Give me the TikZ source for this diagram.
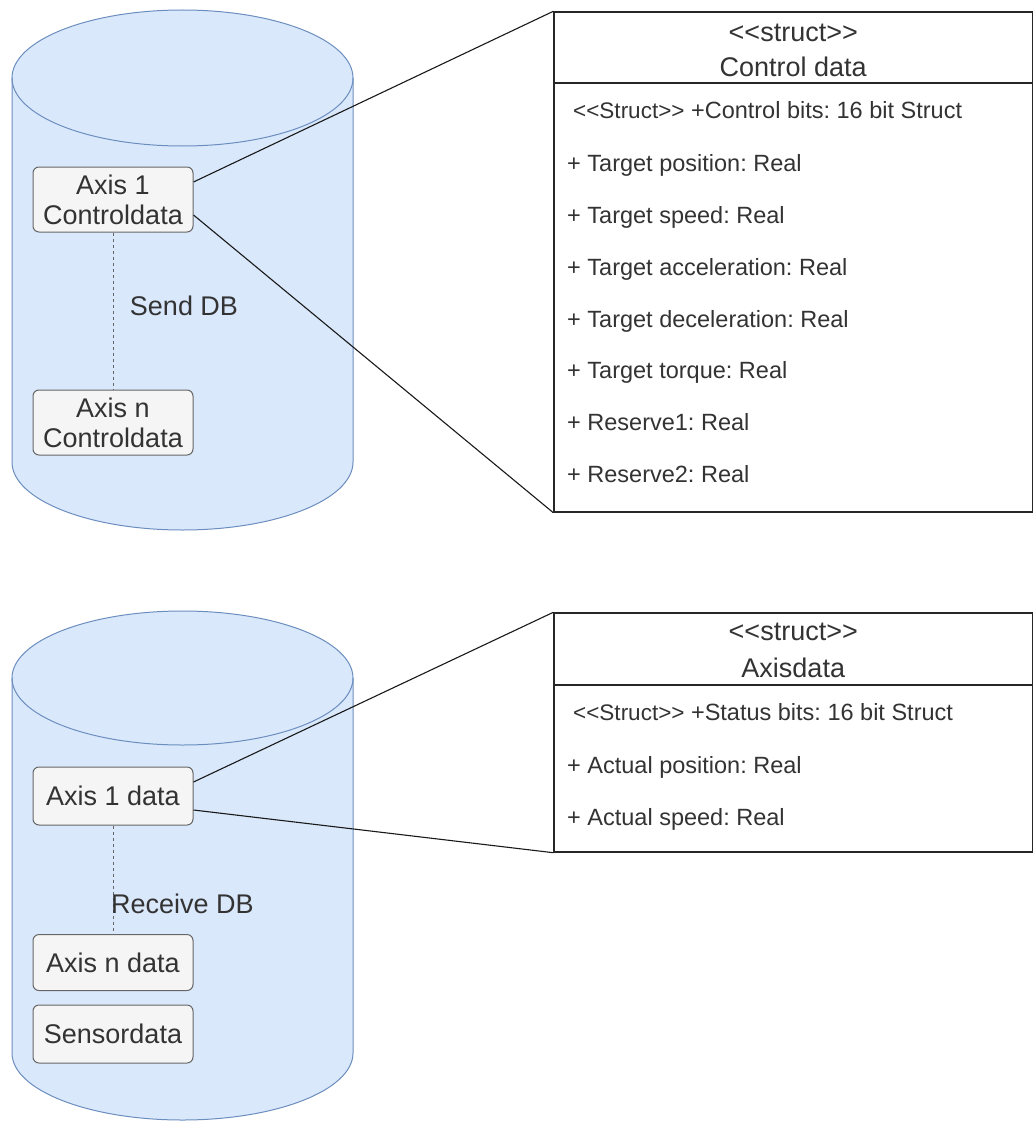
\documentclass[tikz,border=0pt]{standalone}
\usepackage{fontspec}
\setmainfont{Liberation Sans}
% guillemet-free double angle brackets
\newcommand\dlt{<\kern0pt<}
\newcommand\dgt{>\kern0pt>}
\definecolor{cylfill}{HTML}{DAE8FC}
\definecolor{cylline}{HTML}{6C8EBF}
\definecolor{boxfill}{HTML}{F5F5F5}
\definecolor{boxline}{HTML}{666666}
\definecolor{txt}{HTML}{333333}

\begin{document}
\frenchspacing
\begin{tikzpicture}[x=1pt,y=1pt,
  cylbody/.style={fill=cylfill},
  cylrim/.style={draw=cylline,line width=1pt},
  dbitem/.style={rounded corners=6pt,fill=boxfill,draw=boxline,line width=1pt,
    minimum width=160pt,align=center,text=txt,
    font=\fontsize{27}{30}\selectfont,inner sep=0pt},
  dblabel/.style={text=txt,font=\fontsize{27}{30}\selectfont,inner sep=0pt},
  structbox/.style={draw=black!85,line width=1.4pt,fill=white,inner sep=0pt},
  attr/.style={anchor=base west,text=txt,font=\fontsize{23.5}{26}\selectfont,inner sep=0pt},
  head/.style={anchor=base,text=txt,font=\fontsize{27}{30}\selectfont,inner sep=0pt},
  link/.style={draw=black!90,line width=1.1pt},
  dots/.style={draw=boxline,line width=1pt,dash pattern=on 3pt off 3pt}]
\useasboundingbox (0,0) rectangle (1034,-1129);
\fill[white] (0,0) rectangle (1034,-1129);

% ---------- Send DB cylinder ----------
\fill[cylbody] (12,-78) -- (12,-462)
  arc[start angle=180,end angle=360,x radius=170.5,y radius=68]
  -- (353,-78) arc[start angle=0,end angle=180,x radius=170.5,y radius=68] -- cycle;
\draw[cylrim] (12,-78) -- (12,-462)
  arc[start angle=180,end angle=360,x radius=170.5,y radius=68] -- (353,-78);
\draw[cylrim] (182.5,-78) ellipse[x radius=170.5,y radius=68];

\node[dbitem,minimum height=65pt] (a1) at (113,-199.5) {Axis 1\\Controldata};
\node[dbitem,minimum height=65pt] (an) at (113,-422.5) {Axis n\\Controldata};
\draw[dots] (a1.south) -- (an.north);
\node[dblabel] (send) at (184,-306) {Send DB};

% ---------- Control data struct ----------
\node[structbox,minimum width=478.5pt,minimum height=500pt] (ctrl) at (793.25,-262) {};
\draw[structbox] (554,-83) -- (1032.5,-83);
\node[head] (ctrlst) at (793.25,-42) {\dlt struct\dgt};
\node[head] (ctrlnm) at (793.25,-77) {Control data};
\node[attr] (c0) at (573,-118) {{\fontsize{22.5}{24}\selectfont\dlt Struct\dgt} +Control bits: 16 bit Struct};
\node[attr] (c1) at (567,-171) {+ Target position: Real};
\node[attr] (c2) at (567,-223) {+ Target speed: Real};
\node[attr] (c3) at (567,-275) {+ Target acceleration: Real};
\node[attr] (c4) at (567,-327) {+ Target deceleration: Real};
\node[attr] (c5) at (567,-378) {+ Target torque: Real};
\node[attr] (c6) at (567,-430) {+ Reserve1: Real};
\node[attr] (c7) at (567,-482) {+ Reserve2: Real};

\draw[link] ([yshift=17.5pt]a1.east) -- (ctrl.north west);
\draw[link] ([yshift=-15.5pt]a1.east) -- (ctrl.south west);

% ---------- Receive DB cylinder ----------
\fill[cylbody] (12,-678) -- (12,-1053)
  arc[start angle=180,end angle=360,x radius=170.5,y radius=67]
  -- (353,-678) arc[start angle=0,end angle=180,x radius=170.5,y radius=67] -- cycle;
\draw[cylrim] (12,-678) -- (12,-1053)
  arc[start angle=180,end angle=360,x radius=170.5,y radius=67] -- (353,-678);
\draw[cylrim] (182.5,-678) ellipse[x radius=170.5,y radius=67];

\node[dbitem,minimum height=58pt] (b1) at (113,-796) {Axis 1 data};
\node[dbitem,minimum height=56pt] (bn) at (113,-962.5) {Axis n data};
\node[dbitem,minimum height=58pt] (bs) at (113,-1034) {Sensordata};
\draw[dots] (b1.south) -- (bn.north);
\node[dblabel] (recv) at (182.5,-904) {Receive DB};

% ---------- Axisdata struct ----------
\node[structbox,minimum width=478.5pt,minimum height=239pt] (axd) at (793.25,-732.5) {};
\draw[structbox] (554,-685) -- (1032.5,-685);
\node[head] (axdst) at (793.25,-640) {\dlt struct\dgt};
\node[head] (axdnm) at (793.25,-677) {Axisdata};
\node[attr] (d0) at (573,-720) {{\fontsize{22.5}{24}\selectfont\dlt Struct\dgt} +Status bits: 16 bit Struct};
\node[attr] (d1) at (567,-773) {+ Actual position: Real};
\node[attr] (d2) at (567,-825) {+ Actual speed: Real};

\draw[link] ([yshift=14pt]b1.east) -- (axd.north west);
\draw[link] ([yshift=-14pt]b1.east) -- (axd.south west);
\end{tikzpicture}
\end{document}
